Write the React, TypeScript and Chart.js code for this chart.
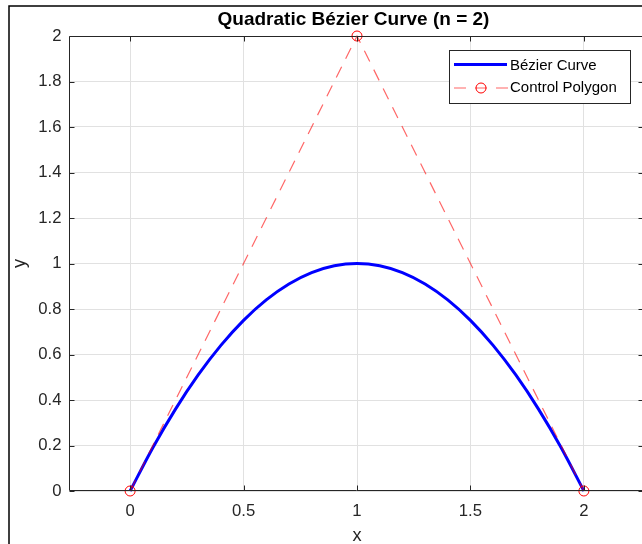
import React, { useEffect, useRef } from 'react';
import { Chart, registerables } from 'chart.js';

Chart.register(...registerables);

// ---- data ----
const curveX = [0, 0.1, 0.2, 0.3, 0.4, 0.5, 0.6, 0.7, 0.8, 0.9, 1.0, 1.1, 1.2, 1.3, 1.4, 1.5, 1.6, 1.7, 1.8, 1.9, 2.0];
const curveY = [0, 0.19, 0.36, 0.51, 0.64, 0.75, 0.84, 0.91, 0.96, 0.99, 1.0, 0.99, 0.96, 0.91, 0.84, 0.75, 0.64, 0.51, 0.36, 0.19, 0];
const controlX = [0, 1, 2];
const controlY = [0, 2, 0];
const seriesNames = ['Bézier Curve', 'Control Polygon'];
const titleText = 'Quadratic Bézier Curve (n = 2)';
const xAxisLabel = 'x';
const yAxisLabel = 'y';
const xTickValues = [0, 0.5, 1, 1.5, 2];
const xTickLabels = ['0', '0.5', '1', '1.5', '2'];
const yTickValues = [0, 0.2, 0.4, 0.6, 0.8, 1, 1.2, 1.4, 1.6, 1.8, 2];
const yTickLabels = ['0', '0.2', '0.4', '0.6', '0.8', '1', '1.2', '1.4', '1.6', '1.8', '2'];
const xRange = [-0.265, 2.265];
const yRange = [0, 2];

const FONT = '"Liberation Sans", Arial, Helvetica, sans-serif';
const AXIS_COLOR = '#262626';
const CURVE_COLOR = '#0000ff';
const POLY_LINE_COLOR = 'rgba(255,0,0,0.6)';
const POLY_MARKER_COLOR = '#ff0000';

const decorPlugin = {
  id: 'matlabDecor',
  afterDraw(chart: any) {
    const { ctx, chartArea } = chart;
    const { left, right, top, bottom } = chartArea;
    const xs = chart.scales.x;
    const ys = chart.scales.y;
    ctx.save();

    // axes box
    const L = Math.round(left) - 0.5;
    const R = Math.round(right) - 0.5;
    const T = Math.round(top) + 0.5;
    const B = Math.round(bottom) - 0.5;
    ctx.strokeStyle = AXIS_COLOR;
    ctx.lineWidth = 1;
    ctx.setLineDash([]);
    ctx.beginPath();
    ctx.moveTo(L, T);
    ctx.lineTo(R, T);
    ctx.lineTo(R, B);
    ctx.lineTo(L, B);
    ctx.closePath();
    ctx.stroke();

    // inward ticks
    const tl = 5;
    ctx.beginPath();
    xTickValues.forEach((v) => {
      const px = Math.round(xs.getPixelForValue(v)) + 0.5;
      ctx.moveTo(px, B);
      ctx.lineTo(px, B - tl);
      ctx.moveTo(px, T);
      ctx.lineTo(px, T + tl);
    });
    yTickValues.forEach((v) => {
      const py = Math.round(ys.getPixelForValue(v)) + 0.5;
      ctx.moveTo(L, py);
      ctx.lineTo(L + tl, py);
      ctx.moveTo(R, py);
      ctx.lineTo(R - tl, py);
    });
    ctx.stroke();

    // title
    ctx.fillStyle = '#000';
    ctx.font = `bold 19px ${FONT}`;
    ctx.textAlign = 'center';
    ctx.textBaseline = 'middle';
    ctx.fillText(titleText, (left + right) / 2 - 3.5, 19.5);

    // legend
    const lx = 449.5, ly = 50.5, lw = 181, lh = 53;
    ctx.fillStyle = '#fff';
    ctx.fillRect(lx, ly, lw, lh);
    ctx.strokeStyle = AXIS_COLOR;
    ctx.lineWidth = 1;
    ctx.strokeRect(lx, ly, lw, lh);

    // entry 1
    ctx.strokeStyle = CURVE_COLOR;
    ctx.lineWidth = 3;
    ctx.beginPath();
    ctx.moveTo(454, 64.5);
    ctx.lineTo(507, 64.5);
    ctx.stroke();

    // entry 2
    ctx.strokeStyle = POLY_LINE_COLOR;
    ctx.lineWidth = 1.2;
    ctx.setLineDash([12, 9]);
    ctx.beginPath();
    ctx.moveTo(454, 88);
    ctx.lineTo(508, 88);
    ctx.stroke();
    ctx.setLineDash([]);
    ctx.strokeStyle = POLY_MARKER_COLOR;
    ctx.lineWidth = 1;
    ctx.beginPath();
    ctx.arc(481, 88, 5, 0, Math.PI * 2);
    ctx.stroke();

    ctx.fillStyle = '#000';
    ctx.font = `15px ${FONT}`;
    ctx.textAlign = 'left';
    ctx.textBaseline = 'middle';
    ctx.fillText(seriesNames[0], 510, 66);
    ctx.fillText(seriesNames[1], 510, 88);

    // figure frame
    ctx.strokeStyle = '#000';
    ctx.lineWidth = 1.5;
    ctx.beginPath();
    ctx.moveTo(9, 544);
    ctx.lineTo(9, 6);
    ctx.lineTo(646, 6);
    ctx.stroke();

    ctx.restore();
  },
};

export default function App() {
  const canvasRef = useRef<HTMLCanvasElement | null>(null);

  useEffect(() => {
    const canvas = canvasRef.current;
    if (!canvas) return;
    const curveData = curveX.map((x, i) => ({ x, y: curveY[i] }));
    const polyData = controlX.map((x, i) => ({ x, y: controlY[i] }));

    const chart = new Chart(canvas, {
      type: 'line',
      data: {
        datasets: [
          {
            label: seriesNames[0],
            data: curveData,
            borderColor: CURVE_COLOR,
            borderWidth: 3,
            pointRadius: 0,
            cubicInterpolationMode: 'monotone',
            fill: false,
            clip: false as any,
            order: 1,
          },
          {
            label: seriesNames[1],
            data: polyData,
            borderColor: POLY_LINE_COLOR,
            borderWidth: 1.2,
            borderDash: [12, 9],
            pointRadius: 5,
            pointStyle: 'circle',
            pointBorderColor: POLY_MARKER_COLOR,
            pointBackgroundColor: 'rgba(0,0,0,0)',
            pointBorderWidth: 1,
            tension: 0,
            fill: false,
            clip: false as any,
            order: 0,
          },
        ],
      },
      options: {
        responsive: false,
        animation: false,
        devicePixelRatio: 1,
        layout: { autoPadding: false, padding: { left: 0, top: 36, right: 2, bottom: 0 } },
        plugins: {
          legend: { display: false },
          title: { display: false },
          tooltip: { enabled: false },
        },
        scales: {
          x: {
            type: 'linear',
            position: 'bottom',
            min: xRange[0],
            max: xRange[1],
            afterBuildTicks: (scale: any) => {
              scale.ticks = xTickValues.map((v) => ({ value: v }));
            },
            afterFit: (scale: any) => {
              scale.height = 53;
            },
            ticks: {
              color: AXIS_COLOR,
              font: { family: FONT, size: 16.7 },
              padding: 10,
              maxRotation: 0,
              autoSkip: false,
              callback: (v: any) => {
                const i = xTickValues.indexOf(Number(v));
                return i >= 0 ? xTickLabels[i] : '';
              },
            },
            grid: { color: '#e1e1e1', lineWidth: 1, drawTicks: false },
            border: { display: false },
            title: {
              display: true,
              text: xAxisLabel,
              color: AXIS_COLOR,
              font: { family: FONT, size: 18.3, lineHeight: 0.9 },
              padding: { top: 0, bottom: 0 },
            },
          },
          y: {
            type: 'linear',
            position: 'left',
            min: yRange[0],
            max: yRange[1],
            afterBuildTicks: (scale: any) => {
              scale.ticks = yTickValues.map((v) => ({ value: v }));
            },
            afterFit: (scale: any) => {
              scale.width = 70;
            },
            ticks: {
              color: AXIS_COLOR,
              font: { family: FONT, size: 16.7 },
              padding: 8.5,
              autoSkip: false,
              callback: (v: any) => {
                const i = yTickValues.findIndex((t) => Math.abs(t - Number(v)) < 1e-9);
                return i >= 0 ? yTickLabels[i] : '';
              },
            },
            grid: { color: '#e1e1e1', lineWidth: 1, drawTicks: false },
            border: { display: false },
            title: {
              display: true,
              text: yAxisLabel,
              color: AXIS_COLOR,
              font: { family: FONT, size: 18.3, lineHeight: 1.2 },
              padding: { top: 9, bottom: 0 },
            },
          },
        },
      },
      plugins: [decorPlugin],
    });

    return () => chart.destroy();
  }, []);

  return (
    <div
      style={{
        position: 'absolute',
        left: 0,
        top: 0,
        width: 642,
        height: 544,
        overflow: 'hidden',
        background: '#fff',
      }}
    >
      <canvas
        ref={canvasRef}
        width={646}
        height={544}
        style={{ display: 'block', width: 646, height: 544 }}
      />
    </div>
  );
}
